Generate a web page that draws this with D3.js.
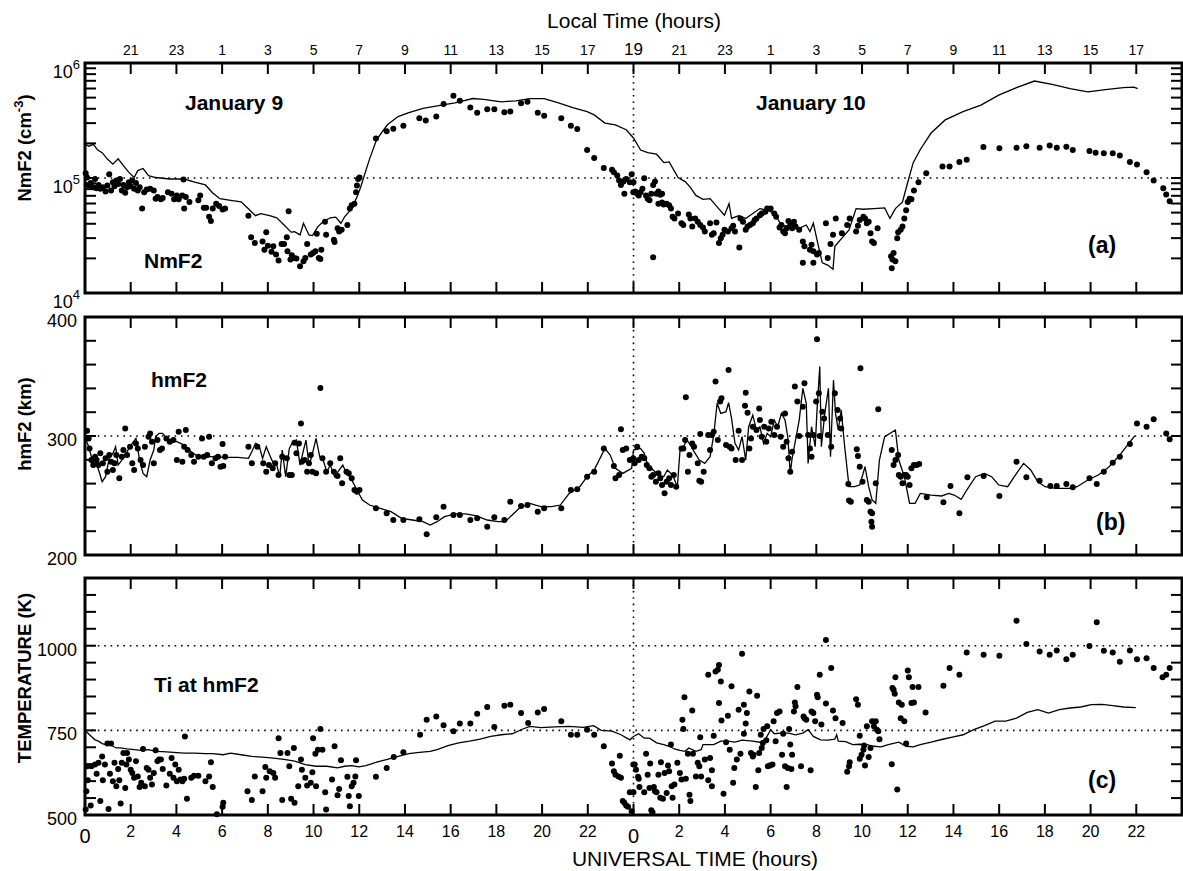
<!DOCTYPE html>
<html>
<head>
<meta charset="utf-8">
<script src="https://cdn.jsdelivr.net/npm/d3@7"></script>
<style>
  body { margin: 0; background: #fff; }
  svg { display: block; }
  text { font-family: Arial, "Liberation Sans", sans-serif; fill: #000; }
</style>
</head>
<body>
<svg id="chart" width="1183" height="871"></svg>
<script>
// ---- data: [UT hours, value] ----
const nmModel = [
  [0,198000],[0.16,189000],[0.36,196000],[0.56,175000],[0.75,166000],[0.98,146000],[1.22,132000],[1.45,147000],
  [1.68,128000],[1.92,112000],[2.15,101000],[2.31,116000],[2.54,121000],[2.78,105000],[3.09,101000],[3.71,98000],
  [4.34,98000],[4.8,92000],[5.27,87000],[5.59,74000],[5.9,66000],[6.37,64000],[6.83,62000],[7.15,54000],
  [7.46,47000],[7.69,49000],[8.08,47000],[8.39,45000],[8.71,39000],[9.02,33800],[9.17,34100],[9.41,32000],
  [9.56,40400],[9.8,32000],[9.95,31600],[10.19,37800],[10.42,41700],[10.73,45100],[10.97,45700],[11.2,40400],
  [11.36,46000],[11.67,54200],[11.9,68200],[12.06,83200],[12.22,105000],[12.45,146000],[12.76,216000],[13.23,290000],
  [13.7,342000],[14.17,370000],[14.79,404000],[15.41,423000],[16.19,451000],[16.97,491000],[17.44,482000],[18.22,460000],
  [18.85,469000],[19.47,491000],[20.09,491000],[20.72,451000],[21.34,409000],[21.97,378000],[22.28,354000],[22.75,300000],
  [23.21,290000],[23.68,263000],[24,223000],[24.31,175000],[24.62,166000],[25.01,161000],[25.33,136000],[25.56,138000],
  [25.95,101000],[26.26,93000],[26.49,83000],[26.73,70600],[27.04,65200],[27.35,66100],[27.66,56100],[27.98,47500],
  [28.18,59800],[28.29,44500],[28.6,46900],[28.91,44500],[29.22,49100],[29.53,54200],[29.85,52500],[30.16,49100],
  [30.47,39000],[30.78,37700],[31.25,36500],[31.56,39000],[31.72,34200],[31.87,40400],[32.11,24600],[32.26,18300],
  [32.5,17500],[32.73,16100],[32.81,25500],[33.12,30000],[33.43,35400],[33.74,54200],[34.05,53500],[34.52,54200],
  [34.99,55000],[35.22,44500],[35.46,54200],[35.77,61900],[36,91800],[36.24,136000],[36.55,177000],[37.02,246000],
  [37.64,320000],[38.42,378000],[39.2,431000],[39.98,525000],[40.76,611000],[41.54,697000],[42.32,652000],[43.1,598000],
  [43.88,561000],[44.65,587000],[45.43,611000],[45.9,618000],[46.06,598000]
];
const nmObs = [
  [0.03,110000],[0.09,101000],[0.16,86000],[0.25,90600],[0.36,83200],[0.44,98000],[0.51,81500],[0.59,87100],
  [0.67,80500],[0.78,83200],[0.9,76400],[0.98,86000],[1.06,108000],[1.14,77900],[1.22,91800],[1.29,84900],
  [1.37,94900],[1.45,88900],[1.53,98000],[1.61,77900],[1.68,87100],[1.76,74300],[1.84,83200],[1.92,91800],
  [2,84900],[2.07,94900],[2.15,80500],[2.23,90600],[2.31,77900],[2.39,83200],[2.5,54200],[2.59,75300],
  [2.7,79400],[2.85,80500],[3.01,77900],[3.09,66100],[3.17,68200],[3.32,65200],[3.4,67000],[3.63,75300],
  [3.79,72900],[3.9,65200],[4.02,70600],[4.1,65200],[4.26,70600],[4.31,96800],[4.34,54200],[4.41,68200],
  [4.57,61800],[4.96,64000],[5.04,70600],[5.2,55000],[5.3,55000],[5.43,46000],[5.51,42300],[5.59,54200],
  [5.74,59800],[5.87,57200],[6.02,53200],[6.13,54200],
  [7.15,46900],[7.27,30600],[7.43,27200],[7.77,28100],[7.85,23800],[7.93,33800],[8,25800],[8.16,22800],
  [8.24,25500],[8.36,21600],[8.47,19200],[8.6,26700],[8.71,26700],[8.83,30600],[8.86,23100],[8.91,51400],
  [8.99,19600],[9.05,21300],[9.13,20200],[9.25,20000],[9.41,17100],[9.56,18900],[9.64,20200],[9.72,26700],
  [9.88,21600],[9.98,22300],[10.08,23100],[10.14,32700],[10.23,20200],[10.3,19800],[10.34,23800],[10.5,41700],
  [10.55,32100],[10.89,29000],[10.92,27700],[11.05,36500],[11.12,34200],[11.23,35400],[11.48,39000],[11.59,54200],
  [11.67,57900],[11.79,59800],[11.86,75300],[11.9,86000],[11.95,98000],[12.01,101000],
  [12.73,220000],[13.2,255000],[13.49,268000],[13.93,285000],[14.63,331000],[14.91,316000],[15.37,342000],[15.69,439000],
  [16.12,518000],[16.4,469000],[16.86,411000],[17.16,370000],[17.6,396000],[17.91,396000],[18.35,373000],[18.61,378000],
  [19.08,446000],[19.36,460000],[19.81,370000],[20.09,347000],[20.84,331000],[21.26,285000],[21.54,267000],[21.97,175000],
  [22.28,149000],[22.7,122000],[23.06,118000],[23.14,112000],[23.29,105000],[23.37,94900],[23.45,87100],[23.56,93000],
  [23.6,72900],[23.68,98000],[23.84,91800],[23.92,108000],[23.99,75300],
  [24,91800],[24.08,76400],[24.16,72900],[24.23,70600],[24.31,75300],[24.39,80500],[24.47,99300],[24.55,70600],
  [24.62,66100],[24.7,64000],[24.78,72900],[24.86,87100],[24.94,93000],[25.01,72900],[25.09,76400],[25.17,71500],
  [25.25,72900],[24.86,20500],[25.09,59800],[25.25,61100],[25.32,58800],[25.45,59800],[25.56,57900],[25.64,54200],
  [25.71,46000],[25.79,44500],[25.95,49100],[26.1,40400],[26.18,39000],[26.42,48200],[26.49,44500],[26.57,37800],
  [26.7,44500],[26.81,41700],[26.92,39000],[27.04,37100],[27.12,34200],[27.35,40400],[27.43,32100],[27.51,33100],
  [27.63,41100],[27.74,27200],[27.82,30000],[27.9,32100],[27.98,35400],[28.13,34200],[28.29,36500],[28.36,38500],
  [28.44,34200],[28.63,24900],[28.68,44500],[28.79,41700],[28.91,35400],[28.99,37800],[29.1,39000],[29.22,40400],
  [29.3,43100],[29.38,44500],[29.53,47500],[29.61,49100],[29.77,50800],[29.85,54200],[30,54200],[30.16,49100],
  [30.24,46000],[30.39,37100],[30.47,39000],[30.55,34200],[30.63,33100],[30.7,36500],[30.78,42300],[30.86,39000],
  [30.94,36500],[31.02,41700],[31.09,37800],[31.25,35400],[31.41,28100],[31.48,25500],[31.72,23800],[31.79,26300],
  [31.87,23100],[32.03,21600],[32.11,22300],[31.41,18300],[31.87,18300],[32.42,40400],[32.5,20200],[32.62,26700],
  [32.73,32100],[32.85,44500],[33.12,33100],[33.35,39000],[33.46,44500],[33.74,34200],[33.82,38500],[33.9,43100],
  [34.06,46000],[34.13,44500],[34.21,40400],[34.29,41700],[34.37,33100],[34.44,28100],[34.52,27200],[34.68,36500],
  [35.27,20900],[35.33,19600],[35.38,22300],[35.3,16400],[35.46,18900],[35.54,30000],[35.58,33800],[35.69,35400],
  [35.77,37800],[35.85,44500],[35.93,52500],[36,61800],[36.08,66100],[36.16,65200],[36.27,77900],[36.47,91800],
  [36.81,110000],[37.52,126000],[37.83,126000],[38.26,138000],[38.58,144000],[39.31,186000],[40.01,181000],[40.76,183000],
  [41.19,189000],[41.77,183000],[42.21,192000],[42.52,183000],[42.94,187000],[43.22,175000],[43.95,172000],[44.22,166000],
  [44.58,164000],[44.97,164000],[45.28,157000],[45.72,138000],[46.03,131000],[46.45,112000],[46.76,94900],[47.18,81500],
  [47.31,72000],[47.46,62700]
];
const hmModel = [
  [0,299.4],[0.16,291],[0.28,282.6],[0.44,279.8],[0.62,270],[0.75,261.6],[0.9,265.8],[1.06,281.2],[1.22,285.4],
  [1.34,291],[1.45,275.6],[1.61,279.8],[1.76,284],[1.92,289.6],[2.07,293.8],[2.23,298],[2.39,279.8],[2.54,268.6],
  [2.7,265.8],[2.85,279.8],[3.01,288.2],[3.09,299.4],[3.24,302.2],[3.4,302.2],[3.56,298],[3.71,296.6],[4.02,295.2],
  [4.34,292.4],[4.65,286.8],[4.96,282.6],[5.27,282.6],[5.74,282.6],[6.05,282.1],[6.68,282.1],[7.15,281.2],[7.3,286.8],
  [7.46,293.8],[7.61,292.4],[7.77,281.2],[7.93,291],[8.08,284],[8.24,277],[8.39,275.6],[8.52,265.8],[8.63,288.2],
  [8.78,265.8],[8.94,289.6],[9.1,295.2],[9.25,296.6],[9.41,275.6],[9.56,288.2],[9.67,296.6],[9.8,275.6],[9.92,282.6],
  [10.11,298],[10.27,282.6],[10.42,279.8],[10.58,270],[10.73,275.6],[10.92,265.8],[11.12,271.4],[11.28,275.6],[11.44,268.6],
  [11.59,265.8],[11.75,260.2],[11.9,254.6],[12.14,246.2],[12.45,242],[12.92,239.2],[13.39,236.4],[13.85,230.8],[14.32,229.4],
  [14.79,228],[15.1,225.2],[15.41,228],[15.73,232.2],[16.19,234.5],[16.66,234.5],[17.13,232.8],[17.6,229.4],[18.07,228],
  [18.38,228],[18.69,233.6],[19,239.2],[19.47,243.4],[19.94,240.6],[20.41,240.6],[20.8,242],[21.19,251.8],[21.65,257.4],
  [21.97,265.8],[22.28,271.4],[22.75,289.6],[22.98,284],[23.21,272.8],[23.53,268.6],[23.92,272.8],[24,288.2],[24.31,289.6],
  [24.47,285.4],[24.62,275.6],[24.86,271.4],[25.09,267.2],[25.32,265.8],[25.48,271.4],[25.71,267.2],[25.92,257.4],[26.03,286.8],
  [26.18,291],[26.34,296.6],[26.49,292.4],[26.65,286.8],[26.88,279.8],[27.12,277],[27.35,282.6],[27.51,300.8],[27.66,327.5],
  [27.82,319],[28.05,320.4],[28.16,328],[28.29,314.8],[28.44,293.8],[28.6,288.2],[28.75,299.4],[28.91,279.8],[29.04,307.8],
  [29.22,317.6],[29.38,305],[29.53,307.8],[29.69,293.8],[29.85,302.2],[30,299.4],[30.16,313.4],[30.31,307.8],[30.47,319],
  [30.63,313.4],[30.75,299.4],[30.86,268.6],[30.94,281.2],[31.09,296.6],[31.25,313.4],[31.41,340.1],[31.56,327.5],[31.64,277],
  [31.79,307.8],[31.95,291],[32.03,321.8],[32.15,358.3],[32.22,291],[32.37,319],[32.53,340.1],[32.62,282.6],[32.75,347.1],
  [32.84,319],[32.96,305],[33.09,321.8],[33.24,291],[33.43,257.4],[33.67,257.4],[33.9,258.8],[34.13,274.2],[34.29,257.4],
  [34.44,246.2],[34.6,243.4],[34.76,279.8],[34.99,299.4],[35.46,305],[35.61,279.8],[35.85,265.8],[36.08,243.4],[36.32,243.4],
  [36.55,251.8],[37.02,250.4],[37.48,249.6],[37.8,251.8],[38.03,250.4],[38.34,246.8],[38.58,254.6],[38.97,265.8],[39.36,268.6],
  [39.67,265.8],[39.98,258.8],[40.37,257.4],[40.76,268.6],[41.07,277],[41.38,271.4],[41.69,261.6],[42.01,257.4],[42.47,256],
  [43.1,256],[43.41,257.4],[43.88,263],[44.34,267.2],[44.81,274.2],[45.28,284],[45.67,293.8],[45.93,300]
];
const hmObs = [
  [0.09,304.5],[0.16,298],[0.2,289.6],[0.28,279.8],[0.36,275.6],[0.44,282.6],[0.51,279.8],[0.59,275.6],[0.67,285.4],
  [0.78,277],[0.9,281.2],[0.98,270],[1.06,284],[1.14,278.4],[1.22,271.4],[1.29,277],[1.37,284],[1.5,264.4],
  [1.61,282.6],[1.68,288.2],[1.76,306.4],[1.84,284],[1.97,291],[2.07,277],[2.15,271.4],[2.23,293.8],[2.31,289.6],
  [2.43,279.8],[2.54,275.6],[2.62,291],[2.78,299.4],[2.85,302.2],[2.93,295.2],[3.01,277],[3.17,296.6],[3.28,288.2],
  [3.37,289.6],[3.56,298],[3.71,295.2],[3.87,296.6],[4.02,279.8],[4.1,303.6],[4.26,278.4],[4.34,291],[4.41,305],
  [4.49,288.2],[4.65,284],[4.77,278.4],[4.96,282.6],[5.12,298],[5.2,282.6],[5.35,284],[5.43,299.4],[5.55,277],
  [5.71,281.2],[5.82,282.6],[5.93,274.2],[6.02,293.3],[6.13,282.6],[6.05,274.8],
  [7.15,291],[7.3,277],[7.54,291],[7.8,277],[7.93,270],[8.05,275.6],[8.21,272.8],[8.32,277],[8.47,267.2],
  [8.63,282.6],[8.83,281.2],[8.94,267.2],[9.05,267.2],[9.17,294.4],[9.25,285.4],[9.36,293.8],[9.45,310.6],[9.49,278.4],
  [9.61,279.8],[9.72,270],[9.8,277],[9.88,284],[9.95,270],[10.11,268.6],[10.3,340.3],[10.39,281.2],[10.55,270],
  [10.73,277],[10.89,270],[11.05,266.4],[11.17,281.2],[11.25,260.2],[11.44,270],[11.54,268.6],[11.67,264.4],[11.79,254.6],
  [11.9,253.2],[12.01,254.6],[12.73,239.2],[13.2,235],[13.49,229.4],[13.93,229.4],[14.63,230],[14.95,217.4],[15.37,231.7],
  [15.69,240.6],[16.12,233.6],[16.4,233.6],[16.86,229.4],[17.16,230.8],[17.6,223.8],[17.91,231.7],[18.35,229.4],[18.61,244.8],
  [19.08,241.2],[19.36,242],[19.81,236.4],[20.09,239.2],[20.84,239.2],[21.26,254.6],[21.54,255.2],[21.97,265.8],[22.28,270],
  [22.7,289.6],[23.14,274.8],[23.21,264.4],[23.37,267.2],[23.45,305.6],[23.53,288.2],[23.68,289.6],[23.84,279.8],[23.99,281.2],
  [24.05,277],[24.16,291],[24.23,279.8],[24.36,282.6],[24.47,281.2],[24.58,275.6],[24.7,272.8],[24.78,265.8],[24.86,267.2],
  [24.98,261.6],[25.09,268.6],[25.17,264.4],[25.25,258.8],[25.36,251.8],[25.45,261.6],[25.56,264.4],[25.64,258.8],[25.76,267.2],
  [25.87,257.4],[26.1,289.6],[26.18,289.6],[26.26,296.6],[26.29,332.5],[26.38,270],[26.45,284],[26.57,293.8],[26.65,291],
  [26.81,277],[26.88,262.5],[26.96,261.6],[26.92,301.7],[27.07,270],[27.27,300.8],[27.35,288.2],[27.43,300.8],[27.51,303.6],
  [27.59,345.7],[27.69,296.6],[27.79,328.9],[27.85,331.7],[28.05,292.4],[28.16,355.5],[28.21,291],[28.29,289.6],[28.47,279.8],
  [28.6,304.5],[28.75,279.8],[28.88,325.5],[28.91,336.4],[28.99,319.6],[29.07,289.6],[29.14,298],[29.22,307.8],[29.38,305],
  [29.5,323.2],[29.53,313.4],[29.61,299.4],[29.72,307.8],[29.81,295.2],[29.92,306.4],[30.03,312],[30.16,300.8],[30.28,307.8],
  [30.44,299.4],[30.55,291],[30.63,319],[30.7,295.2],[30.78,281.2],[30.86,270],[30.94,286.8],[31.06,341.5],[31.17,328.9],
  [31.25,300],[31.41,324.6],[31.48,344.3],[31.64,300.8],[31.72,289.6],[31.79,282.6],[31.87,300.8],[31.99,328.9],[32.03,381.2],
  [32.11,335.9],[32.15,300],[32.26,320.4],[32.34,314.8],[32.5,300.8],[32.65,291],[32.81,335.9],[32.93,321.8],[33.04,314.8],
  [33.09,306.4],[33.4,259.7],[33.43,245.7],[33.51,244.8],[33.77,288.8],[33.82,283.2],[33.9,274.2],[34.02,261.6],[34.21,246.2],
  [34.29,244.8],[34.37,236.4],[34.44,235],[34.41,228],[34.44,223.8],[34.6,260.2],[34.71,322.4],[33.93,356.9],[35.3,288.2],
  [35.38,275.6],[35.46,279.8],[35.58,284],[35.61,267.2],[35.69,265.8],[35.77,260.2],[35.85,267.2],[35.93,267.2],[36,265.8],
  [36.08,258.8],[36.16,272.8],[36.27,275.6],[36.39,275.6],[36.5,276.5],[36.83,248.5],[37.56,244.3],[37.87,258],[38.26,235],
  [38.61,265.3],[39.32,266.4],[40.01,249.6],[40.76,278.4],[41.19,265.3],[41.77,262.5],[42.24,258],[42.52,258],[42.94,259.7],
  [43.22,256.9],[43.95,264.4],[44.27,259.7],[44.58,270],[44.97,277.6],[45.28,282.6],[45.72,293.3],[46.03,310.6],[46.45,307.8],
  [46.76,314],[47.31,302.2],[47.46,297.2]
];
const tiModel = [
  [0,750],[0.12,742],[0.28,732],[0.44,722],[0.59,718],[0.75,711],[0.9,708],[1.06,711],[1.22,703],[1.37,698],[1.53,698],
  [1.84,695],[2.15,693],[2.46,691],[2.78,693],[3.09,688],[3.4,687],[3.87,685],[4.34,683],[4.8,683],[5.27,681],[5.59,681],
  [6.05,678],[6.37,683],[6.83,678],[7.3,673],[7.77,671],[8.24,668],[8.71,664],[9.17,659],[9.64,649],[10.11,644],[10.58,644],
  [11.05,639],[11.36,644],[11.67,646],[11.98,642],[12.29,646],[12.76,656],[13.23,664],[13.7,673],[14.17,681],[14.63,685],
  [15.1,688],[15.41,693],[15.88,705],[16.35,713],[16.82,718],[17.29,724],[17.75,732],[18.22,737],[18.69,740],[19.16,754],
  [19.47,762],[19.94,758],[20.56,760],[21.19,762],[21.81,759],[22.25,764],[22.59,750],[23.06,748],[23.45,737],[23.84,722],
  [24,732],[24.23,740],[24.47,727],[24.7,727],[25.01,713],[25.32,708],[25.56,703],[25.79,695],[26.03,691],[26.26,688],
  [26.42,698],[26.57,693],[26.73,688],[26.96,693],[27.04,708],[27.51,708],[27.82,718],[28.13,718],[28.44,715],[28.75,721],
  [29.22,718],[29.53,715],[29.77,723],[30,752],[30.16,740],[30.47,742],[30.78,742],[31.09,737],[31.41,742],[31.64,752],
  [31.87,732],[32.18,722],[32.5,721],[32.81,724],[32.89,737],[32.96,718],[33.28,717],[33.59,708],[33.9,709],[34.21,708],
  [34.52,703],[34.83,701],[35.15,708],[35.61,715],[35.93,703],[36.24,701],[36.55,708],[37.02,715],[37.48,723],[37.95,730],
  [38.42,737],[38.89,752],[39.36,764],[39.82,777],[40.29,777],[40.76,786],[41.23,803],[41.69,811],[42.16,801],[42.63,811],
  [43.1,816],[43.57,819],[44.03,826],[44.5,827],[44.97,823],[45.44,819],[45.98,817]
];
const tiObs = [
  [0.03,516],[0.06,570],[0.09,644],[0.12,603],[0.25,528],[0.28,644],[0.44,649],[0.51,622],[0.59,654],[0.67,541],
  [0.75,673],[0.78,603],[0.87,649],[0.98,711],[1.03,518],[1.09,622],[1.14,711],[1.22,600],[1.29,654],[1.37,585],
  [1.45,636],[1.5,603],[1.56,534],[1.61,654],[1.68,683],[1.76,580],[1.81,649],[1.84,683],[1.92,664],[2,634],
  [2.07,624],[2.15,610],[2.23,659],[2.31,614],[2.39,583],[2.46,595],[2.54,695],[2.62,585],[2.7,639],[2.78,634],
  [2.85,610],[2.93,590],[3.01,624],[3.09,691],[3.17,659],[3.24,664],[3.32,664],[3.4,636],[3.56,587],[3.71,622],
  [3.79,668],[3.87,610],[3.95,649],[4.02,600],[4.1,634],[4.18,605],[4.26,600],[4.34,607],[4.37,732],[4.46,548],
  [4.65,610],[4.77,616],[4.96,616],[5.27,600],[5.43,614],[5.51,656],[5.59,583],[5.77,502],[6.02,524],[6.05,536],
  [7.11,570],[7.3,544],[7.43,614],[7.77,570],[7.89,642],[7.93,610],[8.08,629],[8.24,624],[8.32,610],[8.47,727],
  [8.55,683],[8.63,544],[8.86,683],[8.94,644],[9.02,548],[9.14,698],[9.17,536],[9.33,585],[9.45,664],[9.49,634],
  [9.64,610],[9.72,587],[9.88,595],[9.95,626],[9.98,727],[10.08,681],[10.11,585],[10.19,693],[10.3,754],[10.39,693],
  [10.51,567],[10.55,516],[10.81,605],[10.92,703],[11.05,558],[11.12,577],[11.2,662],[11.48,613],[11.54,556],[11.59,526],
  [11.67,585],[11.75,595],[11.83,614],[11.86,662],[11.98,556],[12.73,613],[13.2,639],[13.51,671],[13.93,685],[14.66,737],
  [14.95,781],[15.37,791],[15.69,765],[16.12,747],[16.4,770],[16.86,770],[17.16,799],[17.6,819],[17.91,760],[18.35,823],
  [18.61,826],[19.08,801],[19.39,772],[19.81,803],[20.09,813],[20.84,777],[21.26,737],[21.54,737],[21.97,752],[22.28,737],
  [22.7,703],[23.06,652],[23.14,629],[23.21,619],[23.34,614],[23.4,675],[23.45,610],[23.53,541],[23.6,536],[23.68,528],
  [23.76,524],[23.84,567],[23.92,511],[23.99,649],
  [24,567],[24.05,649],[24.11,634],[24.2,613],[24.23,607],[24.26,583],[24.47,567],[24.55,681],[24.62,619],[24.7,580],
  [24.73,652],[24.78,514],[24.83,508],[24.89,583],[24.94,570],[25.01,567],[25.09,619],[25.17,551],[25.2,656],[25.29,548],
  [25.36,624],[25.45,565],[25.51,646],[25.56,629],[25.64,708],[25.67,585],[25.71,551],[25.79,590],[25.92,654],[26.03,624],
  [26.1,605],[26.14,781],[26.18,754],[26.23,848],[26.29,607],[26.38,681],[26.45,560],[26.49,541],[26.57,809],[26.6,681],
  [26.73,614],[26.81,654],[26.88,644],[26.92,730],[26.96,614],[27.12,664],[27.27,603],[27.35,668],[27.43,585],[27.43,632],
  [27.27,914],[27.51,734],[27.59,924],[27.69,929],[27.74,943],[27.74,831],[27.82,894],[27.85,779],[27.94,563],[28.05,715],
  [28.13,793],[28.21,693],[28.29,880],[28.36,595],[28.41,639],[28.52,664],[28.6,811],[28.68,681],[28.75,976],[28.83,826],
  [28.83,740],[28.91,770],[28.96,801],[29.07,865],[29.14,683],[29.22,673],[29.25,678],[29.35,583],[29.41,852],[29.46,632],
  [29.5,683],[29.57,737],[29.61,698],[29.66,713],[29.69,754],[29.81,721],[29.85,762],[29.88,644],[29.97,646],[30.08,649],
  [30.13,777],[30.22,718],[30.28,801],[30.39,806],[30.5,678],[30.55,740],[30.63,644],[30.7,583],[30.75,639],[30.81,754],
  [30.86,708],[30.91,636],[30.94,678],[31.02,806],[31.06,832],[31.09,821],[31.17,878],[31.33,644],[31.44,791],[31.48,786],
  [31.56,781],[31.75,632],[31.79,806],[31.87,801],[31.95,777],[32.03,855],[32.06,848],[32.15,914],[32.22,767],[32.42,829],
  [32.42,1017],[32.65,934],[32.73,809],[32.84,786],[33.15,772],[33.35,628],[33.43,644],[33.46,656],[33.74,842],[33.82,826],
  [33.9,734],[33.9,666],[33.98,678],[34.06,693],[34.09,705],[34.13,646],[34.21,762],[34.29,671],[34.37,698],[34.44,777],
  [34.52,762],[34.6,777],[34.65,752],[34.71,747],[34.76,724],[35.3,650],[35.33,875],[35.38,870],[35.43,858],[35.46,907],
  [35.54,575],[35.61,832],[35.69,786],[35.74,826],[35.85,777],[35.93,711],[36,927],[36.05,907],[36.16,831],[36.21,878],
  [36.27,832],[36.47,878],[36.78,803],[37.56,882],[37.83,934],[38.26,914],[38.58,980],[39.32,973],[40.01,970],[40.76,1074],
  [41.19,1005],[41.77,983],[42.21,973],[42.52,986],[42.94,960],[43.22,973],[43.95,999],[44.27,1069],[44.58,985],[44.97,980],
  [45.28,953],[45.72,986],[46.03,960],[46.45,963],[46.76,934],[47.15,907],[47.31,914],[47.46,934]
];

// ---- axis labels ----
const utTickValues = d3.range(2, 48, 2);
const bottomTickLabels = ["0","2","4","6","8","10","12","14","16","18","20","22",
                          "0","2","4","6","8","10","12","14","16","18","20","22"];
const topTickLabels = ["", "21","23","1","3","5","7","9","11","13","15","17",
                       "19","21","23","1","3","5","7","9","11","13","15","17"];
const nmTicks = [1e4, 1e5, 1e6];
const hmTicks = [200, 300, 400];
const tiTicks = [500, 750, 1000];

const svg = d3.select("#chart");
const X0 = 85, X1 = 1182;
const x = d3.scaleLinear().domain([0, 48]).range([X0, X1]);

const panels = [
  { y: d3.scaleLog().domain([1e4, 1e6]).range([293, 63]), top: 63, bottom: 293,
    model: nmModel, obs: nmObs, refs: [1e5],
    minor: d3.range(2, 10).map(d => d * 1e4).concat(d3.range(1, 10).map(d => d * 1e5)),
    tag: "(a)", tagX: 1088, tagY: 253 },
  { y: d3.scaleLinear().domain([200, 400]).range([555, 317]), top: 317, bottom: 555,
    model: hmModel, obs: hmObs, refs: [300],
    minor: d3.range(220, 400, 20), tag: "(b)", tagX: 1096, tagY: 530 },
  { y: d3.scaleLinear().domain([500, 1200]).range([815, 578]), top: 578, bottom: 815,
    model: tiModel, obs: tiObs, refs: [750, 1000],
    minor: d3.range(550, 1200, 50), tag: "(c)", tagX: 1088, tagY: 788 }
];

const line = d3.line().curve(d3.curveLinear);

panels.forEach(p => {
  const g = svg.append("g");

  // dotted reference lines
  p.refs.forEach(v => {
    g.append("line").attr("x1", X0).attr("x2", X1).attr("y1", p.y(v)).attr("y2", p.y(v))
      .attr("stroke", "#000").attr("stroke-width", 1.6).attr("stroke-dasharray", "1.6,4.8");
  });
  g.append("line").attr("x1", x(24)).attr("x2", x(24)).attr("y1", p.top).attr("y2", p.bottom)
    .attr("stroke", "#000").attr("stroke-width", 1.6).attr("stroke-dasharray", "1.6,4.8");

  // model curve
  g.append("path").datum(p.model)
    .attr("d", line.x(d => x(d[0])).y(d => p.y(d[1])))
    .attr("fill", "none").attr("stroke", "#000").attr("stroke-width", 1.3);

  // measured points
  g.selectAll("circle").data(p.obs).join("circle")
    .attr("cx", d => x(d[0])).attr("cy", d => p.y(d[1])).attr("r", 3).attr("fill", "#000");

  // inward ticks on all four sides
  const tk = g.append("g").attr("stroke", "#000").attr("stroke-width", 2);
  utTickValues.forEach(t => {
    tk.append("line").attr("x1", x(t)).attr("x2", x(t)).attr("y1", p.bottom).attr("y2", p.bottom - 11);
    tk.append("line").attr("x1", x(t)).attr("x2", x(t)).attr("y1", p.top).attr("y2", p.top + 11);
  });
  p.minor.forEach(v => {
    tk.append("line").attr("x1", X0).attr("x2", X0 + 11).attr("y1", p.y(v)).attr("y2", p.y(v));
    tk.append("line").attr("x1", X1).attr("x2", X1 - 11).attr("y1", p.y(v)).attr("y2", p.y(v));
  });

  g.append("rect").attr("x", X0).attr("y", p.top).attr("width", X1 - X0).attr("height", p.bottom - p.top)
    .attr("fill", "none").attr("stroke", "#000").attr("stroke-width", 3);

  g.append("text").attr("x", p.tagX).attr("y", p.tagY).attr("font-size", 23).attr("font-weight", "bold").text(p.tag);
});

// left tick labels
nmTicks.forEach(v => {
  const t = svg.append("text").attr("x", 80).attr("y", panels[0].y(v) + 15)
    .attr("text-anchor", "end").attr("font-size", 18);
  t.append("tspan").text("10");
  t.append("tspan").attr("dy", -9).attr("font-size", 13).text(Math.round(Math.log10(v)));
});
hmTicks.forEach(v => svg.append("text").attr("x", 77).attr("y", panels[1].y(v) + 10)
  .attr("text-anchor", "end").attr("font-size", 18).text(v));
tiTicks.forEach(v => svg.append("text").attr("x", 77).attr("y", panels[2].y(v) + 10)
  .attr("text-anchor", "end").attr("font-size", 18).text(v));

// bottom UT labels
d3.range(0, 48, 2).forEach((t, i) => {
  const big = t % 24 === 0;
  svg.append("text").attr("x", x(t)).attr("y", big ? 843 : 837).attr("text-anchor", "middle")
    .attr("font-size", big ? 20 : 16).text(bottomTickLabels[i]);
});
// top LT labels
d3.range(0, 48, 2).forEach((t, i) => {
  if (!topTickLabels[i]) return;
  const big = t === 24;
  svg.append("text").attr("x", x(t)).attr("y", 55).attr("text-anchor", "middle")
    .attr("font-size", big ? 17 : 14).text(topTickLabels[i]);
});

// axis titles
svg.append("text").attr("x", 634).attr("y", 28).attr("text-anchor", "middle").attr("font-size", 21)
  .text("Local Time (hours)");
svg.append("text").attr("x", 695).attr("y", 866).attr("text-anchor", "middle").attr("font-size", 21)
  .text("UNIVERSAL TIME (hours)");

const ylab = (cy, build) => {
  const t = svg.append("text").attr("transform", `translate(31,${cy}) rotate(-90)`)
    .attr("text-anchor", "middle").attr("font-size", 18.5).attr("font-weight", "bold");
  build(t);
};
ylab(148, t => {
  t.append("tspan").text("NmF2 (cm");
  t.append("tspan").attr("dy", -8).attr("font-size", 13).text("-3");
  t.append("tspan").attr("dy", 8).text(")");
});
ylab(424, t => t.text("hmF2 (km)"));
ylab(678, t => t.text("TEMPERATURE (K)"));

// panel annotations
const note = (xx, yy, s) => svg.append("text").attr("x", xx).attr("y", yy)
  .attr("font-size", 21).attr("font-weight", "bold").text(s);
note(185, 110, "January 9");
note(756, 110, "January 10");
note(144, 268, "NmF2");
note(151, 387, "hmF2");
note(154, 692, "Ti at hmF2");
</script>
</body>
</html>
